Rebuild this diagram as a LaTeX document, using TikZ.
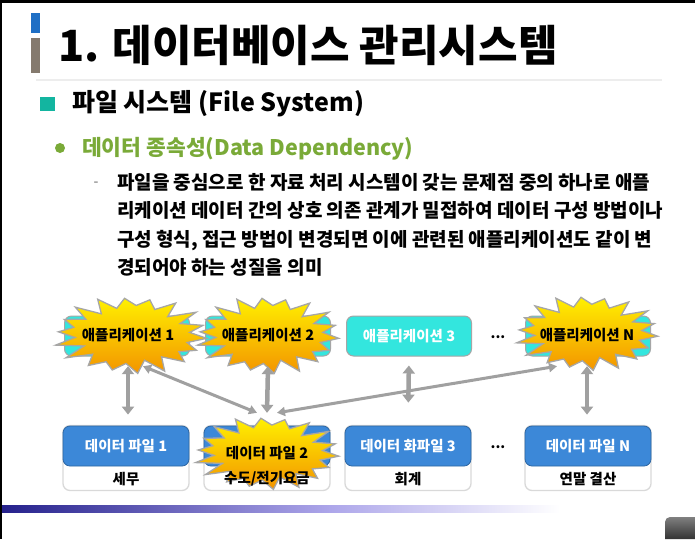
\documentclass[tikz,border=0pt]{standalone}
\usepackage{fontspec}
\setmainfont{Noto Sans CJK KR}
\usetikzlibrary{arrows.meta,shapes.geometric}

\definecolor{titleblue}{HTML}{1F6FC5}
\definecolor{titlegray}{HTML}{857A6E}
\definecolor{bullteal}{HTML}{13B5A0}
\definecolor{subgreen}{HTML}{7AAA38}
\definecolor{appcyan}{HTML}{33E6DE}
\definecolor{fileblue}{HTML}{3C88D8}
\definecolor{burstyellow}{HTML}{FFF000}
\definecolor{burstorange}{HTML}{F39400}
\definecolor{barnavy}{HTML}{25218C}
\definecolor{barlav}{HTML}{ADA6EA}
\definecolor{arrowgray}{HTML}{A0A0A0}

% starburst drawn around a centre: #1,#2 centre, #3,#4 radii
\newcommand\burst[4]{%
  \shade[top color=burstyellow, middle color=burstyellow!70!burstorange, bottom color=burstorange,
         draw=black!35, line width=1.3pt, line join=miter]
    plot[variable=\t, samples at={0,...,35}]
      ({#1+(#3)*(1-0.27*mod(\t,2)+0.05*sin(\t*137))*cos(\t*10+5)},
       {#2+(#4)*(1-0.27*mod(\t,2)+0.05*sin(\t*137))*sin(\t*10+5)}) -- cycle;}

\tikzset{
  hd/.style={font=\fontsize{14.5}{16}\selectfont\bfseries},
  apprect/.style={draw=black!35, line width=1pt, fill=appcyan, rounded corners=7pt,
                  minimum width=125pt, minimum height=40pt},
  burstname/.style={ellipse, minimum width=130pt, minimum height=62pt, inner sep=0pt, hd},
  fileouter/.style={draw=black!15, line width=1.3pt, fill=white, rounded corners=7pt,
                    minimum width=126pt, minimum height=65pt},
  filetop/.style={draw=fileblue!75!black, line width=0.8pt, fill=fileblue, rounded corners=7pt,
                  minimum width=126pt, minimum height=40pt, text=white, hd},
  dblarrow/.style={draw=arrowgray, line width=4.5pt,
                   {Triangle[width=12pt,length=8pt]}-{Triangle[width=12pt,length=8pt]}},
  diagarrow/.style={draw=arrowgray, line width=3pt,
                   {Triangle[width=9pt,length=8pt]}-{Triangle[width=9pt,length=8pt]}},
}

\begin{document}
\begin{tikzpicture}[x=1pt,y=-1pt]
\useasboundingbox (0,0) rectangle (695,539);
\fill[white] (0,0) rectangle (695,539);
\fill[black] (0,0) rectangle (695,3);
\fill[black] (0,0) rectangle (2,539);

% title
\fill[titleblue] (31,13) rectangle (40,33);
\fill[titlegray] (31,38) rectangle (40,73);
\node[anchor=west, inner sep=0pt, font=\fontsize{43}{47}\selectfont\bfseries] (title) at (58,45)
  {1. 데이터베이스 관리시스템};
\draw[black!7, line width=1.2pt] (36,80) -- (662,80);

% headings
\fill[bullteal] (40,97) rectangle (55,111);
\node[anchor=west, inner sep=0pt, font=\fontsize{25}{29}\selectfont\bfseries] (h1) at (72,104)
  {파일 시스템 (File System)};
\fill[subgreen] (60,148) circle (5);
\node[anchor=west, inner sep=0pt, text=subgreen, font=\fontsize{21.5}{26}\selectfont\bfseries] (h2) at (82,149)
  {데이터 종속성(Data Dependency)};
\node[inner sep=0pt, text=black!60, font=\fontsize{14}{16}\selectfont] (dash) at (96,184) {-};
\node[anchor=north west, inner sep=0pt, align=left, font=\fontsize{19}{28.5}\selectfont\bfseries] (body) at (117,173)
  {파일을 중심으로 한 자료 처리 시스템이 갖는 문제점 중의 하나로 애플\\
   리케이션 데이터 간의 상호 의존 관계가 밀접하여 데이터 구성 방법이나\\
   구성 형식, 접근 방법이 변경되면 이에 관련된 애플리케이션도 같이 변\\
   경되어야 하는 성질을 의미};

% application row
\node[apprect] (r1) at (127,336) {};
\node[apprect] (r2) at (268,336) {};
\node[apprect] (rN) at (588,336) {};
\burst{131}{335}{76}{38}
\burst{268}{335}{71}{38}
\burst{587}{333}{71}{37}
\node[burstname] (app1) at (128,335) {애플리케이션 1};
\node[burstname] (app2) at (268,335) {애플리케이션 2};
\node[apprect, text=white, hd] (app3) at (409,336) {애플리케이션 3};
\node[burstname] (appN) at (587,335) {애플리케이션 N};
\node[font=\fontsize{14}{16}\selectfont\bfseries] (dotsA) at (498,337) {...};

% data file row
\node[fileouter] (o1) at (126,458) {};
\node[fileouter] (o2) at (267,458) {};
\node[fileouter] (o3) at (408,458) {};
\node[fileouter] (oN) at (588,458) {};
\node[filetop] (file1) at (126,446) {데이터 파일 1};
\node[filetop] (file2) at (267,446) {};
\node[filetop] (file3) at (408,446) {데이터 화파일 3};
\node[filetop] (fileN) at (588,446) {데이터 파일 N};
\burst{267}{453}{72}{36}
\node[burstname] (f2b) at (267,453) {데이터 파일 2};
\node[hd] (lab1) at (126,479) {세무};
\node[hd] (lab2) at (267,479) {수도/전기요금};
\node[hd] (lab3) at (408,479) {회계};
\node[hd] (labN) at (588,479) {연말 결산};
\node[font=\fontsize{14}{16}\selectfont\bfseries] (dotsB) at (498,447) {...};

% connectors
\draw[dblarrow, shorten >=11pt] (app1.south) -- (app1.south |- file1.north);
\draw[dblarrow] (app2.south) -- ([yshift=9pt]f2b.north);
\draw[dblarrow, shorten <=9pt, shorten >=23pt] (app3.south) -- (file3.north);
\draw[dblarrow, shorten >=11pt] (appN.south) -- (appN.south |- fileN.north);
\draw[diagarrow] ([xshift=15pt]app1.south) -- ([xshift=-10pt,yshift=9pt]f2b.north);
\draw[diagarrow] ([xshift=10pt,yshift=9pt]f2b.north) -- ([xshift=-30pt]appN.south);

% bottom band
\shade[left color=barnavy, right color=barlav] (2,505) rectangle (330,512);
\shade[left color=barlav, right color=white] (330,505) rectangle (560,512);
\shade[top color=black!50, bottom color=black!80]
  (665,539) -- (665,522) arc[start angle=180, end angle=270, radius=5] -- (695,517) -- (695,539) -- cycle;
\end{tikzpicture}
\end{document}
